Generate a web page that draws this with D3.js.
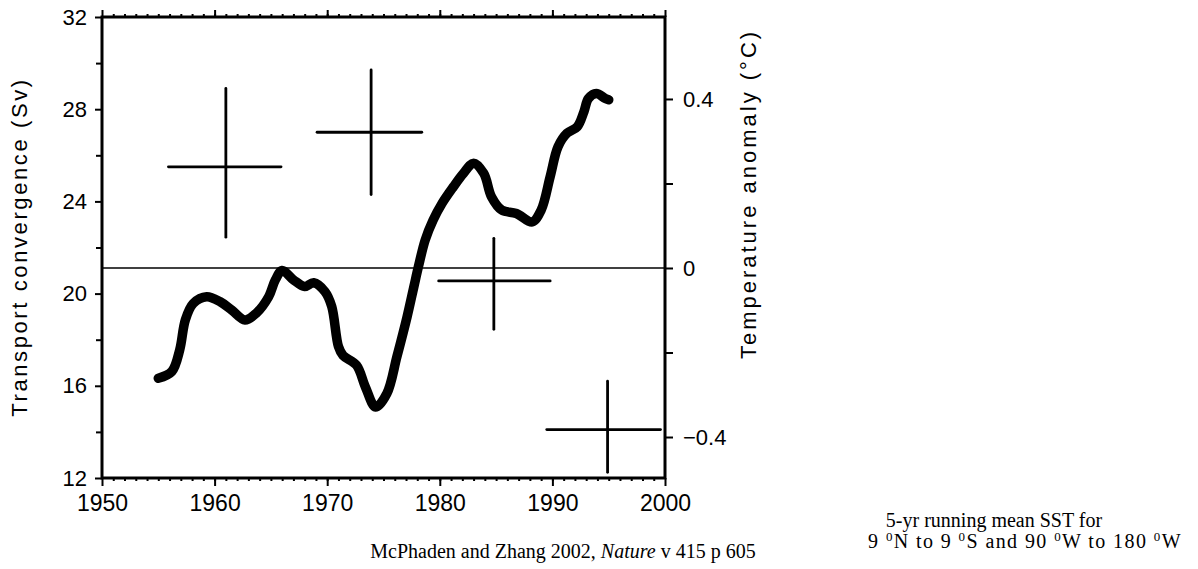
<!DOCTYPE html>
<html>
<head>
<meta charset="utf-8">
<script src="https://cdn.jsdelivr.net/npm/d3@7"></script>
<style>
  html, body { margin: 0; padding: 0; background: #fff; }
  svg { display: block; }
</style>
</head>
<body>
<div id="chart"></div>
<script>
// 5-yr running mean SST anomaly (right axis, deg C)
const sstYears = [1955.0, 1956.2, 1956.9, 1957.4, 1958.1, 1959.3, 1960.5, 1961.5, 1962.7, 1963.7,
  1964.8, 1965.4, 1966.0, 1967.0, 1968.0, 1968.8, 1969.8, 1970.4, 1971.0, 1971.4,
  1972.6, 1973.4, 1974.3, 1975.3, 1976.2, 1977.1, 1977.7, 1978.1, 1978.7, 1979.4,
  1980.2, 1981.2, 1982.1, 1983.0, 1983.9, 1984.6, 1985.5, 1986.8, 1988.2, 1989.0,
  1989.8, 1990.5, 1991.3, 1992.2, 1992.8, 1993.2, 1993.9, 1994.7, 1995.0];
const sstAnomaly = [-0.261, -0.245, -0.194, -0.123, -0.084, -0.068, -0.080, -0.099, -0.123, -0.107,
  -0.068, -0.028, -0.006, -0.028, -0.044, -0.035, -0.056, -0.091, -0.186, -0.207,
  -0.230, -0.282, -0.329, -0.297, -0.209, -0.115, -0.044, 0.003, 0.066, 0.113,
  0.153, 0.192, 0.224, 0.248, 0.224, 0.168, 0.137, 0.129, 0.109, 0.137,
  0.216, 0.287, 0.319, 0.334, 0.370, 0.401, 0.413, 0.401, 0.398];

// transport convergence estimates (left axis, Sv), decadal periods with error bars
const transportStart = [1955.9, 1969.1, 1979.9, 1989.5];
const transportEnd = [1965.9, 1978.4, 1989.8, 1999.6];
const transportMid = [1961.0, 1973.9, 1984.8, 1994.9];
const transportValue = [25.5, 27.0, 20.55, 14.1];
const transportLow = [22.45, 24.3, 18.45, 12.25];
const transportHigh = [28.9, 29.7, 22.4, 16.2];

const leftTicks = [12, 16, 20, 24, 28, 32];
const leftMinorTicks = [14, 18, 22, 26, 30];
const rightTicks = [-0.4, 0, 0.4];
const rightMinorTicks = [-0.2, 0.2];
const xTicks = [1950, 1960, 1970, 1980, 1990, 2000];
const xMinorTicks = d3.range(1951, 2000);

const W = 1198, H = 569;
const sansFont = '"Liberation Sans", Arial, sans-serif';
const serifFont = '"Liberation Serif", "Times New Roman", serif';

const svg = d3.select('#chart').append('svg')
  .attr('width', W)
  .attr('height', H);

const x = d3.scaleLinear().domain([1950, 2000]).range([102, 665]);
const yL = d3.scaleLinear().domain([12, 32]).range([478, 17]);
const yR = d3.scaleLinear().domain([-0.497, 0.594]).range([478, 17]);

// axis helper so all four sides share the look
function styleAxis(g, fontSize) {
  g.select('.domain').remove();
  g.selectAll('.tick line').attr('stroke', '#000').attr('stroke-width', 2);
  g.selectAll('text')
    .attr('fill', '#000')
    .style('font-family', sansFont)
    .style('font-size', fontSize + 'px');
}

// left axis
svg.append('g')
  .attr('transform', `translate(${x(1950)},0)`)
  .call(d3.axisLeft(yL).tickValues(leftMinorTicks).tickSize(6).tickFormat(''))
  .call(g => styleAxis(g, 22));
svg.append('g')
  .attr('transform', `translate(${x(1950)},0)`)
  .call(d3.axisLeft(yL).tickValues(leftTicks).tickSize(7).tickPadding(8).tickFormat(d3.format('d')))
  .call(g => styleAxis(g, 22));

// right axis
svg.append('g')
  .attr('transform', `translate(${x(2000)},0)`)
  .call(d3.axisRight(yR).tickValues(rightMinorTicks).tickSize(8).tickFormat(''))
  .call(g => styleAxis(g, 22));
svg.append('g')
  .attr('transform', `translate(${x(2000)},0)`)
  .call(d3.axisRight(yR).tickValues(rightTicks).tickSize(8).tickPadding(10)
    .tickFormat(d => d === 0 ? '0' : d3.format('.1f')(d)))
  .call(g => styleAxis(g, 22));

// bottom axis
svg.append('g')
  .attr('transform', `translate(0,${yL(12)})`)
  .call(d3.axisBottom(x).tickValues(xMinorTicks).tickSize(3).tickFormat(''))
  .call(g => styleAxis(g, 23));
svg.append('g')
  .attr('transform', `translate(0,${yL(12)})`)
  .call(d3.axisBottom(x).tickValues(xTicks).tickSize(8).tickPadding(9).tickFormat(d3.format('d')))
  .call(g => styleAxis(g, 23));

// top axis (ticks only)
svg.append('g')
  .attr('transform', `translate(0,${yL(32)})`)
  .call(d3.axisTop(x).tickValues(xMinorTicks).tickSize(3).tickFormat(''))
  .call(g => styleAxis(g, 23));
svg.append('g')
  .attr('transform', `translate(0,${yL(32)})`)
  .call(d3.axisTop(x).tickValues(xTicks).tickSize(7).tickFormat(''))
  .call(g => styleAxis(g, 23));

// frame
svg.append('rect')
  .attr('x', x(1950))
  .attr('y', yL(32))
  .attr('width', x(2000) - x(1950))
  .attr('height', yL(12) - yL(32))
  .attr('fill', 'none')
  .attr('stroke', '#000')
  .attr('stroke-width', 3);

// zero anomaly line
svg.append('line')
  .attr('x1', x(1950))
  .attr('x2', x(2000))
  .attr('y1', yR(0))
  .attr('y2', yR(0))
  .attr('stroke', '#000')
  .attr('stroke-width', 1.6);

// transport crosses
const crosses = svg.append('g').attr('stroke', '#000').attr('stroke-width', 2.8).attr('stroke-linecap', 'round');
transportMid.forEach((m, i) => {
  crosses.append('line')
    .attr('x1', x(transportStart[i]))
    .attr('x2', x(transportEnd[i]))
    .attr('y1', yL(transportValue[i]))
    .attr('y2', yL(transportValue[i]));
  crosses.append('line')
    .attr('x1', x(m))
    .attr('x2', x(m))
    .attr('y1', yL(transportLow[i]))
    .attr('y2', yL(transportHigh[i]));
});

// SST curve
const sstLine = d3.line()
  .x((d, i) => x(sstYears[i]))
  .y(d => yR(d))
  .curve(d3.curveCatmullRom.alpha(0.5));

svg.append('path')
  .datum(sstAnomaly)
  .attr('d', sstLine)
  .attr('fill', 'none')
  .attr('stroke', '#000')
  .attr('stroke-width', 9.5)
  .attr('stroke-linecap', 'round')
  .attr('stroke-linejoin', 'round');

// axis titles
svg.append('text')
  .attr('transform', `translate(27,247) rotate(-90)`)
  .attr('text-anchor', 'middle')
  .style('font-family', sansFont)
  .style('font-size', '22px')
  .style('letter-spacing', '2.6px')
  .text('Transport convergence (Sv)');

svg.append('text')
  .attr('transform', `translate(756,194) rotate(-90)`)
  .attr('text-anchor', 'middle')
  .style('font-family', sansFont)
  .style('font-size', '22px')
  .style('letter-spacing', '3px')
  .text('Temperature anomaly (°C)');

// citation
const cite = svg.append('text')
  .attr('x', 563)
  .attr('y', 558)
  .attr('text-anchor', 'middle')
  .style('font-family', serifFont)
  .style('font-size', '20px');
cite.append('tspan').text('McPhaden and Zhang 2002, ');
cite.append('tspan').style('font-style', 'italic').text('Nature');
cite.append('tspan').text(' v 415 p 605');

// caption on the right
svg.append('text')
  .attr('x', 994)
  .attr('y', 527)
  .attr('text-anchor', 'middle')
  .style('font-family', serifFont)
  .style('font-size', '20px')
  .text('5-yr running mean SST for');

const cap2 = svg.append('text')
  .attr('x', 1025)
  .attr('y', 548)
  .attr('text-anchor', 'middle')
  .style('font-family', serifFont)
  .style('font-size', '20px')
  .style('letter-spacing', '1.4px');
const capParts = ['9 ', 'N to 9 ', 'S and 90 ', 'W to 180 ', 'W'];
capParts.forEach((p, i) => {
  if (i > 0) {
    cap2.append('tspan').attr('dy', -7).style('font-size', '13px').text('0');
    cap2.append('tspan').attr('dy', 7).text(p);
  } else {
    cap2.append('tspan').text(p);
  }
});
</script>
</body>
</html>
